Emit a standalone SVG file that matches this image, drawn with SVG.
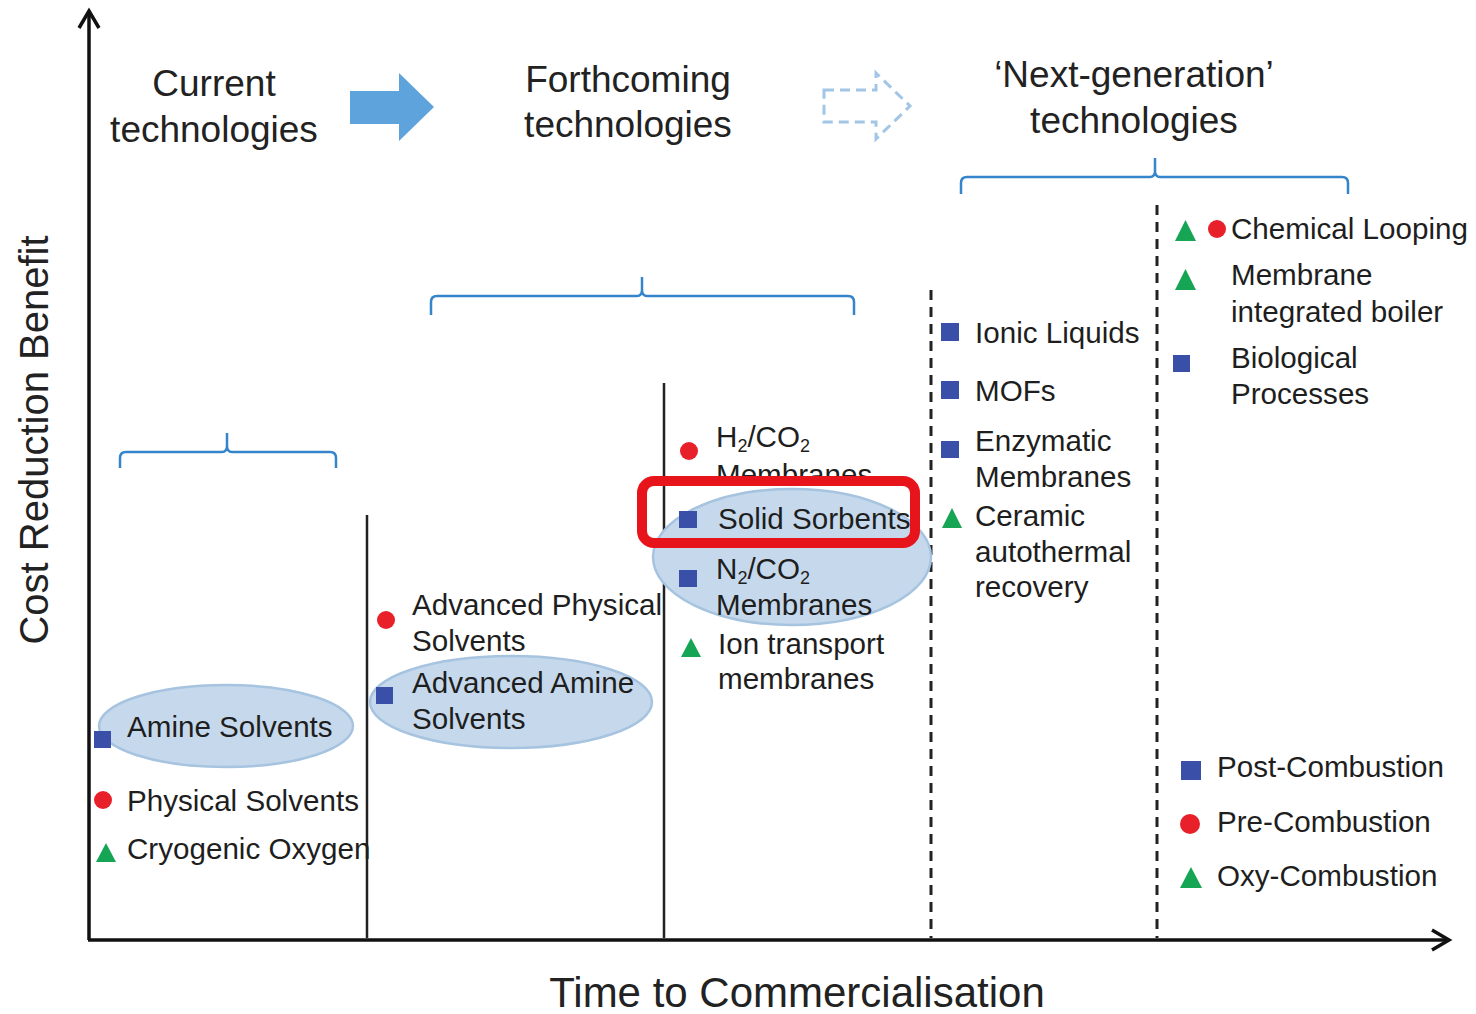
<svg xmlns="http://www.w3.org/2000/svg" width="1476" height="1014" viewBox="0 0 1476 1014">
<defs>
<style>
.t{font-family:"Liberation Sans",Arial,sans-serif;font-size:29.6px;fill:#1e1e1e}
.h{font-family:"Liberation Sans",Arial,sans-serif;font-size:37px;fill:#222;text-anchor:middle}
.ax{font-family:"Liberation Sans",Arial,sans-serif;font-size:40px;fill:#222;text-anchor:middle}
.sq{fill:#3a4fa8}
.ci{fill:#e8202a}
.tr{fill:#16a455}
.el{fill:#c6d9ec;stroke:#a6c3e0;stroke-width:2.5}
.br{fill:none;stroke:#3585cc;stroke-width:2.5}
.axis{stroke:#111;stroke-width:3.5;fill:none}
.sol{stroke:#222;stroke-width:2.5}
.dash{stroke:#222;stroke-width:3;stroke-dasharray:10 7}
</style>
</defs>
<rect width="1476" height="1014" fill="#fff"/>

<g id="connectors">
  <line class="axis" x1="89" y1="940" x2="89" y2="11"/>
  <polyline class="axis" points="79,28 89,11 99,28"/>
  <line class="axis" x1="88" y1="940" x2="1448" y2="940"/>
  <polyline class="axis" points="1432,930 1449,940 1432,950"/>
  <line class="sol" x1="367" y1="515" x2="367" y2="938"/>
  <line class="sol" x1="664" y1="383" x2="664" y2="938"/>
  <line class="dash" x1="931" y1="290" x2="931" y2="938"/>
  <line class="dash" x1="1157" y1="205" x2="1157" y2="938"/>
  <polygon points="350,91 399,91 399,73 434,107 399,141 399,124 350,124" fill="#5fa3dc"/>
  <polygon points="824,90 876,90 876,73 910,106 876,139 876,122 824,122" fill="none" stroke="#a3c6e6" stroke-width="3" stroke-dasharray="10 6"/>
  <path class="br" d="M120,468 V458 Q120,452 126,452 H222 Q227,452 227,446 V433 M227,446 Q227,452 232,452 H330 Q336,452 336,458 V468"/>
  <path class="br" d="M431,315 V302 Q431,296 437,296 H637 Q642,296 642,290 V277 M642,290 Q642,296 647,296 H848 Q854,296 854,302 V315"/>
  <path class="br" d="M961,194 V183 Q961,177 967,177 H1150 Q1155,177 1155,171 V158 M1155,171 Q1155,177 1160,177 H1342 Q1348,177 1348,183 V194"/>
</g>

<g id="headers">
  <text class="h" x="214" y="96">Current</text>
  <text class="h" x="214" y="142">technologies</text>
  <text class="h" x="628" y="92">Forthcoming</text>
  <text class="h" x="628" y="137">technologies</text>
  <text class="h" x="1134" y="87">‘Next-generation’</text>
  <text class="h" x="1134" y="133">technologies</text>
</g>

<g id="axis-labels">
  <text class="ax" transform="translate(48,440) rotate(-90)">Cost Reduction Benefit</text>
  <text class="ax" x="797" y="1007" style="font-size:42px">Time to Commercialisation</text>
</g>

<g id="current">
  <ellipse class="el" cx="226" cy="726" rx="127" ry="41"/>
  <rect class="sq" x="94" y="731" width="17" height="17"/>
  <text class="t" x="127" y="737">Amine Solvents</text>
  <circle class="ci" cx="103" cy="800" r="9"/>
  <text class="t" x="127" y="811">Physical Solvents</text>
  <polygon class="tr" points="96,862 106,843 116,862"/>
  <text class="t" x="127" y="859">Cryogenic Oxygen</text>
</g>

<g id="forthcoming-1">
  <circle class="ci" cx="386" cy="620" r="9"/>
  <text class="t" x="412" y="615">Advanced Physical</text>
  <text class="t" x="412" y="651">Solvents</text>
  <ellipse class="el" cx="511" cy="702" rx="141" ry="46"/>
  <rect class="sq" x="376" y="687" width="17" height="17"/>
  <text class="t" x="412" y="693">Advanced Amine</text>
  <text class="t" x="412" y="729">Solvents</text>
</g>

<g id="forthcoming-2">
  <circle class="ci" cx="689" cy="451" r="9"/>
  <text class="t" x="716" y="447">H<tspan font-size="18" dy="5">2</tspan><tspan dy="-5">/CO</tspan><tspan font-size="18" dy="5">2</tspan></text>
  <text class="t" x="716" y="485">Membranes</text>
  <ellipse class="el" cx="792" cy="557" rx="139" ry="68"/>
  <rect class="sq" x="679" y="511" width="18" height="17"/>
  <text class="t" x="718" y="529">Solid Sorbents</text>
  <rect class="sq" x="679" y="570" width="18" height="17"/>
  <text class="t" x="716" y="579">N<tspan font-size="18" dy="5">2</tspan><tspan dy="-5">/CO</tspan><tspan font-size="18" dy="5">2</tspan></text>
  <text class="t" x="716" y="615">Membranes</text>
  <polygon class="tr" points="681,657 691,638 701,657"/>
  <text class="t" x="718" y="654">Ion transport</text>
  <text class="t" x="718" y="689">membranes</text>
  <rect x="642" y="481" width="273" height="62" rx="12" fill="none" stroke="#e8141c" stroke-width="10"/>
</g>

<g id="next-gen-1">
  <rect class="sq" x="941" y="323" width="18" height="18"/>
  <text class="t" x="975" y="343">Ionic Liquids</text>
  <rect class="sq" x="941" y="381" width="18" height="18"/>
  <text class="t" x="975" y="401">MOFs</text>
  <rect class="sq" x="941" y="441" width="18" height="17"/>
  <text class="t" x="975" y="451">Enzymatic</text>
  <text class="t" x="975" y="487">Membranes</text>
  <polygon class="tr" points="942,528 952,508 962,528"/>
  <text class="t" x="975" y="526">Ceramic</text>
  <text class="t" x="975" y="562">autothermal</text>
  <text class="t" x="975" y="597">recovery</text>
</g>

<g id="next-gen-2">
  <polygon class="tr" points="1175,241 1185.5,220 1196,241"/>
  <circle class="ci" cx="1217" cy="229" r="9"/>
  <text class="t" x="1231" y="239">Chemical Looping</text>
  <polygon class="tr" points="1175,290 1185.5,269 1196,290"/>
  <text class="t" x="1231" y="285">Membrane</text>
  <text class="t" x="1231" y="322">integrated boiler</text>
  <rect class="sq" x="1173" y="355" width="17" height="17"/>
  <text class="t" x="1231" y="368">Biological</text>
  <text class="t" x="1231" y="404">Processes</text>
</g>

<g id="legend">
  <rect class="sq" x="1181" y="761" width="20" height="19"/>
  <text class="t" x="1217" y="777">Post-Combustion</text>
  <circle class="ci" cx="1190" cy="824" r="10"/>
  <text class="t" x="1217" y="832">Pre-Combustion</text>
  <polygon class="tr" points="1180,888 1191,867 1202,888"/>
  <text class="t" x="1217" y="886">Oxy-Combustion</text>
</g>
</svg>
